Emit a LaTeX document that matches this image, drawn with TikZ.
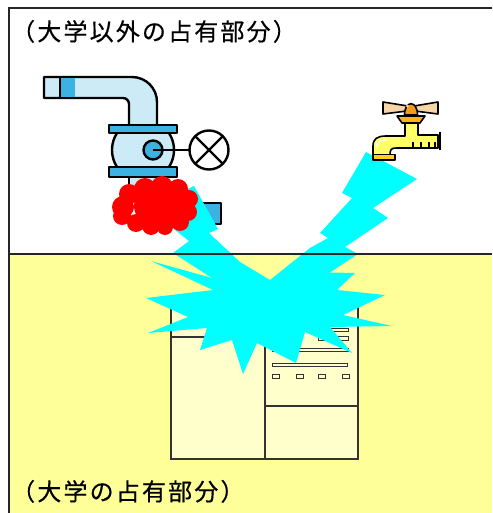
\documentclass[tikz,border=0pt]{standalone}
\usepackage{fontspec}
\newfontfamily\jpfont[LetterSpace=9,FakeBold=0.4]{Noto Sans CJK JP}
\definecolor{lowyellow}{HTML}{FFFF99}
\definecolor{cabinetcream}{HTML}{FFFFCC}
\definecolor{cabinetline}{HTML}{333333}
\definecolor{pipelight}{HTML}{CDEBF6}
\definecolor{pipedark}{HTML}{3CB2E2}
\definecolor{splashcyan}{HTML}{00FFFF}
\definecolor{leakred}{HTML}{FF0000}
\definecolor{handletan}{HTML}{F6D6A6}
\definecolor{knoborange}{HTML}{F39A1E}
\definecolor{cuporange}{HTML}{FFB31A}
\definecolor{faucetyellow}{HTML}{FFFF66}
\definecolor{ringgold}{HTML}{FFD21A}
\tikzset{
  outline/.style={draw=black, line width=2.4pt, line join=round},
  pipebody/.style={outline, fill=pipelight},
  pipeband/.style={outline, fill=pipedark},
  splash/.style={fill=splashcyan, draw=none},
  cabinet/.style={fill=cabinetcream, draw=cabinetline, line width=1.2pt},
  slot/.style={fill=cabinetcream, draw=cabinetline, line width=1pt},
  faucetline/.style={draw=black, line width=1.6pt, line join=round},
  areatext/.style={font=\jpfont\fontsize{24}{24}\selectfont, inner sep=0pt, anchor=base west},
  frameline/.style={draw=black!85, line width=1.8pt}
}
\begin{document}
\begin{tikzpicture}[x=1pt,y=-1pt]
  % canvas
  \fill[white] (0,0) rectangle (492,513);
  \useasboundingbox (0,0) rectangle (492,513);
  % lower (university) area
  \fill[lowyellow] (9,254) rectangle (492,513);

  % cabinet in the university area
  \draw[cabinet] (171,307) rectangle (358,459);
  \draw[cabinet] (265,307) -- (265,459);
  \draw[cabinet] (171,337) -- (265,337);
  \draw[cabinet] (265,406) -- (358,406);
  \draw[slot] (317,328.5) rectangle (348,331);
  \draw[slot] (318,336) rectangle (348,340);
  \draw[slot] (272,348) rectangle (348,351);
  \draw[slot] (272,363) rectangle (347,366);
  \foreach \sx in {272,296,318,342}
    \draw[slot] (\sx,374.5) rectangle ++(7,4);

  % pipe with valve
  \draw[pipebody] (44,77) -- (132,77) arc[start angle=-90,end angle=0,radius=25]
    -- (157,127) -- (129,127) -- (129,104) arc[start angle=0,end angle=-90,radius=6]
    -- (44,98) -- cycle;
  \fill[pipedark] (60,78.2) rectangle (75,96.8);
  \draw[line width=2.4pt] (60,77) -- (60,98);
  \draw[pipebody] (129,172) rectangle (157,192);
  \begin{scope}
    \clip (100,129) rectangle (190,171);
    \draw[pipebody] (143,150) circle[radius=31];
  \end{scope}
  \draw[pipeband] (109,125) rectangle (177,133);
  \draw[pipeband] (109,167) rectangle (177,177);
  \draw[pipeband] (153,150) circle[radius=9.5];
  \draw[line width=2.4pt] (153,150) -- (189.5,150);
  \draw[outline, fill=white] (209,150) circle[radius=19.5];
  \draw[line width=2.4pt] (195.2,136.2) -- (222.8,163.8);
  \draw[line width=2.4pt] (195.2,163.8) -- (222.8,136.2);
  % outlet stub
  \draw[pipeband] (198,203) rectangle (221,224);

  % water bursting out
  \fill[splash] (194,186) -- (218,229) -- (209,233) -- (240,262) -- (250,280)
    -- (212,278) -- (173,253) -- (189,241) -- (170,226) -- (165,200) -- cycle;
  \fill[splash] (366,152) -- (417,179) -- (373,208) -- (388,218) -- (345,247)
    -- (358,254) -- (323,277) -- (300,280) -- (310,248) -- (328,238)
    -- (320,233) -- (352,198) -- (342,193) -- cycle;
  \fill[splash] (146,298) -- (213,290) -- (151,261) -- (212,278) -- (240,262)
    -- (270,280) -- (310,248) -- (308,272) -- (355,273) -- (337,290)
    -- (385,295) -- (343,315) -- (392,326) -- (330,327) -- (352,353)
    -- (305,332) -- (296,363) -- (257,343) -- (243,374) -- (232,340)
    -- (200,350) -- (207,328) -- (148,333) -- (188,317) -- cycle;

  % leak cloud
  \fill[leakred]
    (123,207) circle[radius=11] (129,194) circle[radius=10]
    (145,189) circle[radius=11] (162,187) circle[radius=11]
    (178,189) circle[radius=10] (189,199) circle[radius=9]
    (188,212) circle[radius=9]  (180,222) circle[radius=9]
    (165,227) circle[radius=8]  (151,226) circle[radius=9]
    (136,223) circle[radius=9]  (122,216) circle[radius=9]
    (152,206) circle[radius=18] (172,208) circle[radius=15];

  % boundary lines
  \draw[frameline] (492,8) -- (9,8) -- (9,513);
  \draw[frameline] (9,254) -- (492,254);

  % faucet
  \draw[faucetline, fill=handletan] (383,102) -- (411,106.5) -- (438,102)
    -- (438,114) -- (411,110.5) -- (383,114) -- cycle;
  \draw[faucetline, fill=knoborange] (404.5,115) .. controls (404.5,100) and (417.5,100) .. (417.5,115) -- cycle;
  \fill[white!60!knoborange] (407.5,106) circle[radius=1.6];
  \draw[faucetline, fill=cuporange] (397,116) -- (425,116) -- (420,123) -- (402,123) -- cycle;
  \draw[faucetline, fill=faucetyellow] (405,123) -- (418,123) -- (418,135) -- (438,135)
    -- (438,148) -- (396,148) .. controls (391,148) and (390,150) .. (390,155)
    -- (373,155) -- (373,146) .. controls (373,139) and (377,136) .. (386,136)
    -- (405,136) -- cycle;
  \draw[white, line width=1.5pt, line cap=round] (377,147) .. controls (377,142) and (380,140) .. (386,140);
  \draw[line width=2.2pt] (440,132) -- (440,150);
  \foreach \tx in {413,421,429,435}
    \draw[line width=1.4pt] (\tx,142) -- (\tx,148);
  \draw[faucetline, fill=ringgold] (373,154.5) rectangle (395,160);

  % area labels
  \node[areatext] (upper) at (11,40.5) {（大学以外の占有部分）};
  \node[areatext] (lower) at (11,500.5) {（大学の占有部分）};
\end{tikzpicture}
\end{document}
